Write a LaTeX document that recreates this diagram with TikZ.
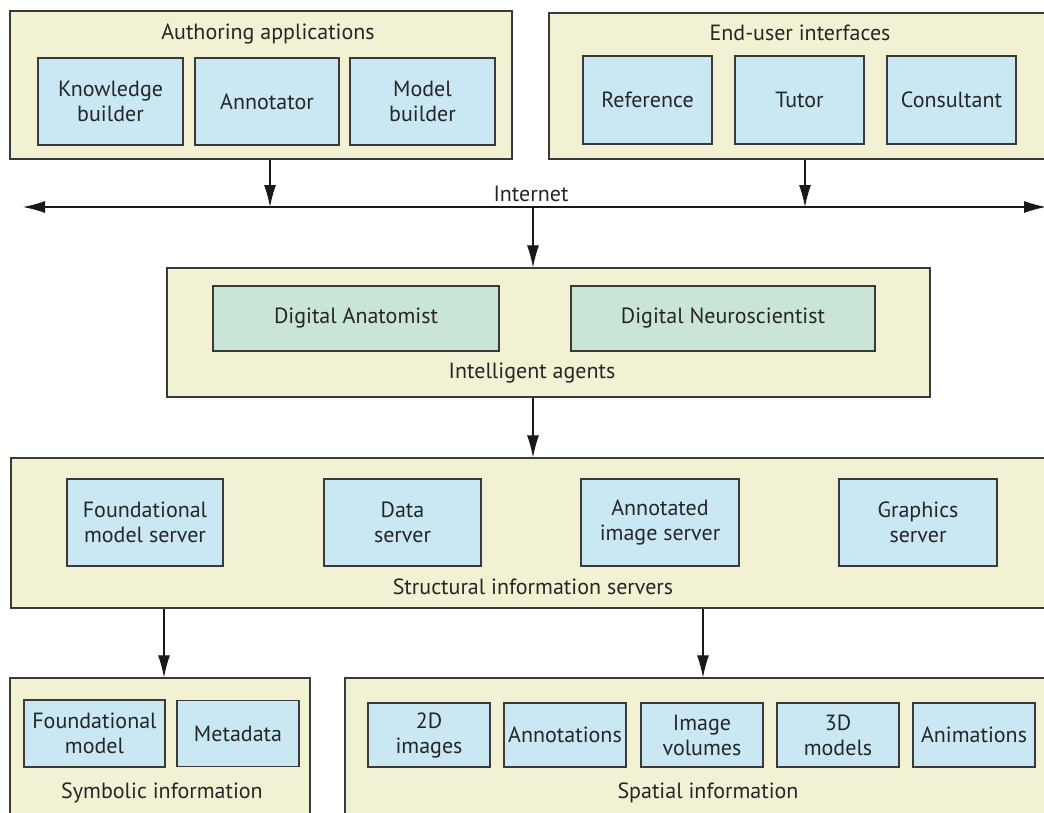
\documentclass[tikz,border=0pt]{standalone}
\usepackage{fontspec}
\setmainfont{PT Sans}
\usepackage{tikz}
\usetikzlibrary{arrows.meta}
\definecolor{panel}{HTML}{F2F1D4}
\definecolor{unit}{HTML}{C9E8F3}
\definecolor{agent}{HTML}{C9E5D5}
\definecolor{edge}{HTML}{3A3A3A}

\begin{document}
\begin{tikzpicture}[x=1pt, y=-1pt,
    group/.style={draw=edge, fill=panel, line width=1.2pt, inner sep=0pt},
    unitbox/.style={draw=edge, fill=unit, line width=1.2pt, inner sep=0pt,
      align=center, text=black!85, font=\fontsize{22}{25}\selectfont},
    agentbox/.style={unitbox, fill=agent},
    caption/.style={text=black!85, inner sep=0pt, font=\fontsize{22}{25}\selectfont},
    arr/.style={draw=black!90, line width=1.1pt, -{Latex[length=22pt,width=12pt]}},
    bus/.style={draw=black!90, line width=1.1pt,
      {Latex[length=22pt,width=12pt]}-{Latex[length=22pt,width=12pt]}}]
  \useasboundingbox (0,0) rectangle (1044,812);
  \clip (0,0) rectangle (1044,812);

  % authoring applications (top left)
  \node[group, minimum width=502pt, minimum height=148pt] (auth) at (261,85) {};
  \node[caption] (authT) at (268,34) {Authoring applications};
  \node[unitbox, minimum width=145pt, minimum height=87pt] (kbuild) at (110.5,101.5) {Knowledge\\builder};
  \node[unitbox, minimum width=144pt, minimum height=87pt] (annot) at (267,101.5) {Annotator};
  \node[unitbox, minimum width=145pt, minimum height=87pt] (mbuild) at (422.5,101.5) {Model\\builder};

  % end-user interfaces (top right, runs off the edge)
  \node[group, minimum width=500pt, minimum height=146pt] (enduser) at (799,86) {};
  \node[caption] (endT) at (800,33) {End-user interfaces};
  \node[unitbox, minimum width=129pt, minimum height=88pt] (refer) at (647.5,100) {Reference};
  \node[unitbox, minimum width=129pt, minimum height=88pt] (tutor) at (799.5,100) {Tutor};
  \node[unitbox, minimum width=129pt, minimum height=88pt] (consult) at (951.5,100) {Consultant};

  % internet bus
  \coordinate (netL) at (23,207);
  \coordinate (netR) at (1046,207);
  \draw[bus] (netL) -- (netR);
  \node[caption, anchor=base] (net) at (531,201) {Internet};
  \coordinate (busA) at (270,207);
  \coordinate (busE) at (805,207);
  \coordinate (busC) at (533,207);
  \draw[arr] (auth.south -| busA) -- (busA);
  \draw[arr] (enduser.south -| busE) -- (busE);

  % intelligent agents
  \node[group, minimum width=763pt, minimum height=129pt] (agents) at (548.5,332.5) {};
  \node[agentbox, minimum width=286pt, minimum height=65pt] (anat) at (356,318.5) {Digital Anatomist};
  \node[agentbox, minimum width=304pt, minimum height=65pt] (neuro) at (723,318.5) {Digital Neuroscientist};
  \node[caption] (agentsT) at (532,373) {Intelligent agents};
  \draw[arr] (busC) -- (agents.north -| busC);

  % structural information servers
  \node[group, minimum width=1040pt, minimum height=150pt] (servers) at (531,533) {};
  \node[unitbox, minimum width=156pt, minimum height=87pt] (fms) at (145,522.5) {Foundational\\model server};
  \node[unitbox, minimum width=157pt, minimum height=87pt] (data) at (402.5,522.5) {Data\\server};
  \node[unitbox, minimum width=158pt, minimum height=87pt] (ais) at (660,522.5) {Annotated\\image server};
  \node[unitbox, minimum width=158pt, minimum height=87pt] (gfx) at (918,522.5) {Graphics\\server};
  \node[caption] (serversT) at (533,587) {Structural information servers};
  \draw[arr] (agents.south -| busC) -- (servers.north -| busC);

  % symbolic information
  \node[group, minimum width=300pt, minimum height=150pt] (symb) at (160,753) {};
  \node[unitbox, minimum width=141pt, minimum height=67pt] (fmodel) at (94.5,733.5) {Foundational\\model};
  \node[unitbox, minimum width=122pt, minimum height=66pt] (meta) at (238,733.5) {Metadata};
  \node[caption] (symbT) at (162,793) {Symbolic information};

  % spatial information
  \node[group, minimum width=705pt, minimum height=150pt] (spat) at (697.5,753) {};
  \node[unitbox, minimum width=122pt, minimum height=64pt] (img2d) at (429,735) {2D\\images};
  \node[unitbox, minimum width=122pt, minimum height=64pt] (annots) at (565,735) {Annotations};
  \node[unitbox, minimum width=122pt, minimum height=64pt] (vols) at (702,735) {Image\\volumes};
  \node[unitbox, minimum width=122pt, minimum height=64pt] (mod3d) at (838,735) {3D\\models};
  \node[unitbox, minimum width=122pt, minimum height=64pt] (anims) at (974,735) {Animations};
  \node[caption] (spatT) at (708,793) {Spatial information};

  \coordinate (tapS) at (164,0);
  \coordinate (tapP) at (703,0);
  \draw[arr] (servers.south -| tapS) -- (symb.north -| tapS);
  \draw[arr] (servers.south -| tapP) -- (spat.north -| tapP);
\end{tikzpicture}
\end{document}
